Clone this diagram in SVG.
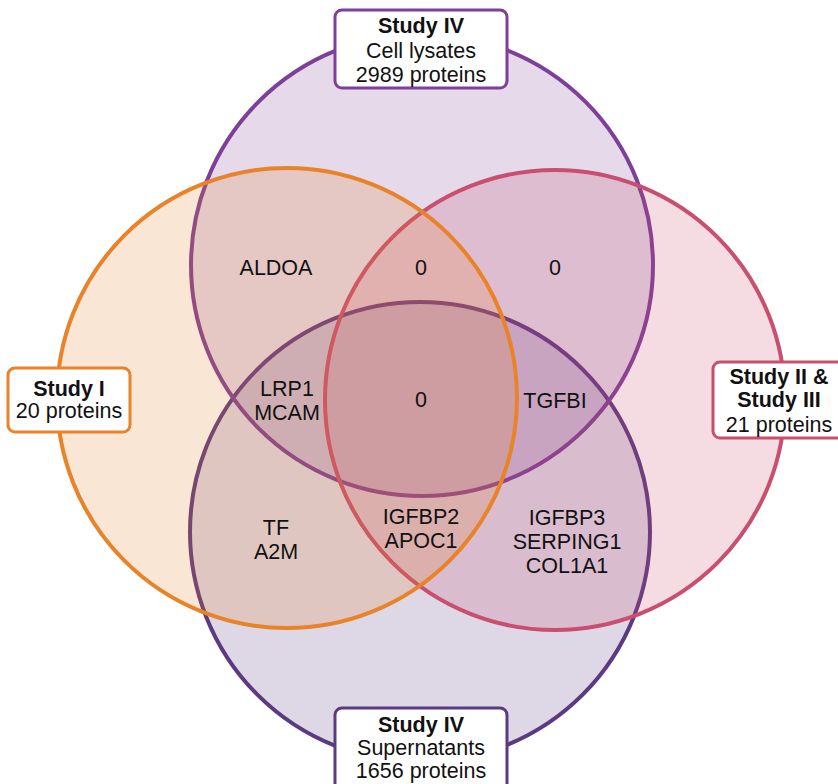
<svg xmlns="http://www.w3.org/2000/svg" width="838" height="784" viewBox="0 0 838 784">
<style>
.c{stroke-width:4}
.box{fill:#ffffff;stroke-width:3}
text{font-family:"Liberation Sans",Arial,sans-serif;font-size:21.5px;fill:#111;text-anchor:middle}
.b{font-weight:bold}
</style>
<rect width="838" height="784" fill="#ffffff"/>
<g id="sets">
<g id="set-supernatants"><circle class="c" cx="420" cy="532" r="230" fill="#5b3a80" fill-opacity="0.2" stroke="#5b3a80"/></g>
<g id="set-lysates"><circle class="c" cx="422" cy="265" r="231" fill="#7e3f98" fill-opacity="0.2" stroke="#7e3f98"/></g>
<g id="set-study23"><circle class="c" cx="555" cy="400" r="230" fill="#c94f70" fill-opacity="0.2" stroke="#c94f70"/></g>
<g id="set-study1"><circle class="c" cx="287" cy="398" r="230" fill="#e8832a" fill-opacity="0.2" stroke="#e8832a"/></g>
</g>
<g id="region-labels">
<text x="276" y="275">ALDOA</text>
<text x="421" y="275">0</text>
<text x="555" y="275">0</text>
<text x="287" y="396">LRP1</text>
<text x="287" y="420">MCAM</text>
<text x="421" y="407">0</text>
<text x="555" y="408">TGFBI</text>
<text x="276" y="535">TF</text>
<text x="276" y="559">A2M</text>
<text x="421" y="524">IGFBP2</text>
<text x="421" y="548">APOC1</text>
<text x="567" y="525">IGFBP3</text>
<text x="567" y="549">SERPING1</text>
<text x="567" y="573">COL1A1</text>
</g>
<g id="label-lysates">
<rect class="box" x="335" y="10" width="172" height="78" rx="7" stroke="#7e3f98"/>
<text class="b" x="421" y="33">Study IV</text>
<text x="421" y="58">Cell lysates</text>
<text x="421" y="82">2989 proteins</text>
</g>
<g id="label-study1">
<rect class="box" x="8" y="368" width="122" height="64" rx="7" stroke="#e8832a"/>
<text class="b" x="69" y="396">Study I</text>
<text x="69" y="418">20 proteins</text>
</g>
<g id="label-study23">
<rect class="box" x="713" y="362" width="134" height="76" rx="7" stroke="#c94f70"/>
<text class="b" x="779" y="384">Study II &amp;</text>
<text class="b" x="779" y="407">Study III</text>
<text x="779" y="432">21 proteins</text>
</g>
<g id="label-supernatants">
<rect class="box" x="335" y="708" width="172" height="90" rx="7" stroke="#5b3a80"/>
<text class="b" x="421" y="732">Study IV</text>
<text x="421" y="755">Supernatants</text>
<text x="421" y="778">1656 proteins</text>
</g>
<g id="connectors"></g>
</svg>
